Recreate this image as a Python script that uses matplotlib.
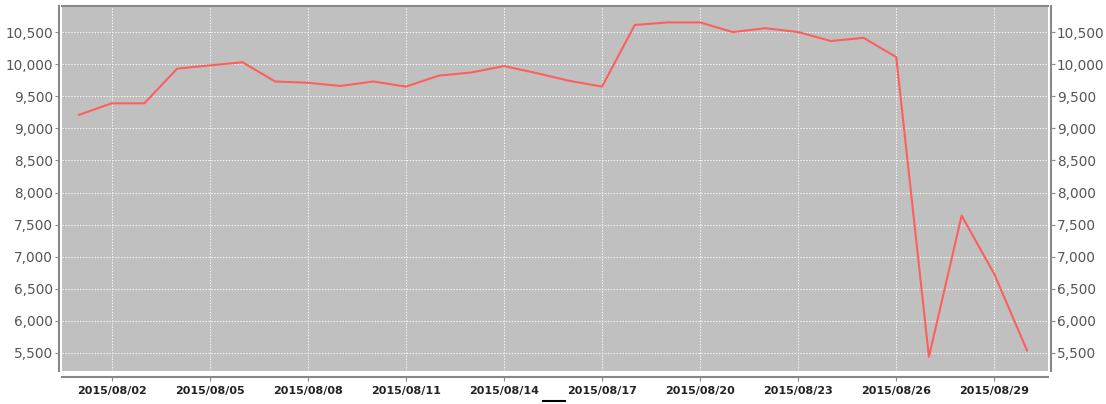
import matplotlib
matplotlib.use("Agg")
import matplotlib.pyplot as plt
import matplotlib.dates as mdates
from matplotlib.ticker import FuncFormatter, MultipleLocator
import numpy as np

dates = np.arange(np.datetime64('2015-08-01'), np.datetime64('2015-08-31'))
values = [9210, 9390, 9390, 9930, 9980, 10030, 9730, 9710, 9660, 9730,
          9650, 9820, 9870, 9970, 9860, 9740, 9650, 10610, 10650, 10650,
          10500, 10560, 10500, 10360, 10410, 10110, 5440, 7640, 6730, 5540]
tick_dates = np.arange(np.datetime64('2015-08-02'), np.datetime64('2015-08-31'), 3)

fig = plt.figure(figsize=(11.06, 4.04), dpi=100)
ax = fig.add_axes([62 / 1106, 33 / 404, 986 / 1106, 365 / 404])
ax.set_facecolor('#c0c0c0')

ax.plot(dates.astype(object), values, color='#ff5e5e', linewidth=1.5)

ax.set_xlim(np.datetime64('2015-07-31T11:30').astype(object),
            np.datetime64('2015-08-30T15:25').astype(object))
ax.set_ylim(5219, 10906)

ax.set_xticks(tick_dates.astype(object))
ax.xaxis.set_major_formatter(mdates.DateFormatter('%Y/%m/%d'))
ax.yaxis.set_major_locator(MultipleLocator(500))
ax.yaxis.set_major_formatter(FuncFormatter(lambda v, p: f'{int(v):,}'))

ax.grid(True, color='white', linestyle=(0, (1.5, 1.5)), linewidth=0.7, alpha=0.85)
ax.set_axisbelow(True)

ax.spines['left'].set_position(('outward', 2))
ax.spines['right'].set_position(('outward', 2))
ax.spines['bottom'].set_position(('outward', 4))
for side in ['left', 'bottom', 'right', 'top']:
    ax.spines[side].set_color('#888888')
    ax.spines[side].set_linewidth(1.5)

ax.tick_params(axis='y', which='both', left=True, right=True, labelleft=True, labelright=True,
               direction='out', length=3, color='#888888', labelsize=9.8, labelcolor='#555555', pad=1.5)
ax.tick_params(axis='x', direction='out', length=3, color='#888888', labelsize=8,
               labelcolor='#222222', pad=4)
for lbl in ax.get_xticklabels():
    lbl.set_fontweight('bold')

# small legend marker at the bottom
fig.add_artist(plt.Line2D([543 / 1106, 565 / 1106], [3 / 404, 3 / 404], color='black', linewidth=1.5))

fig.savefig('out.png', dpi=100)
